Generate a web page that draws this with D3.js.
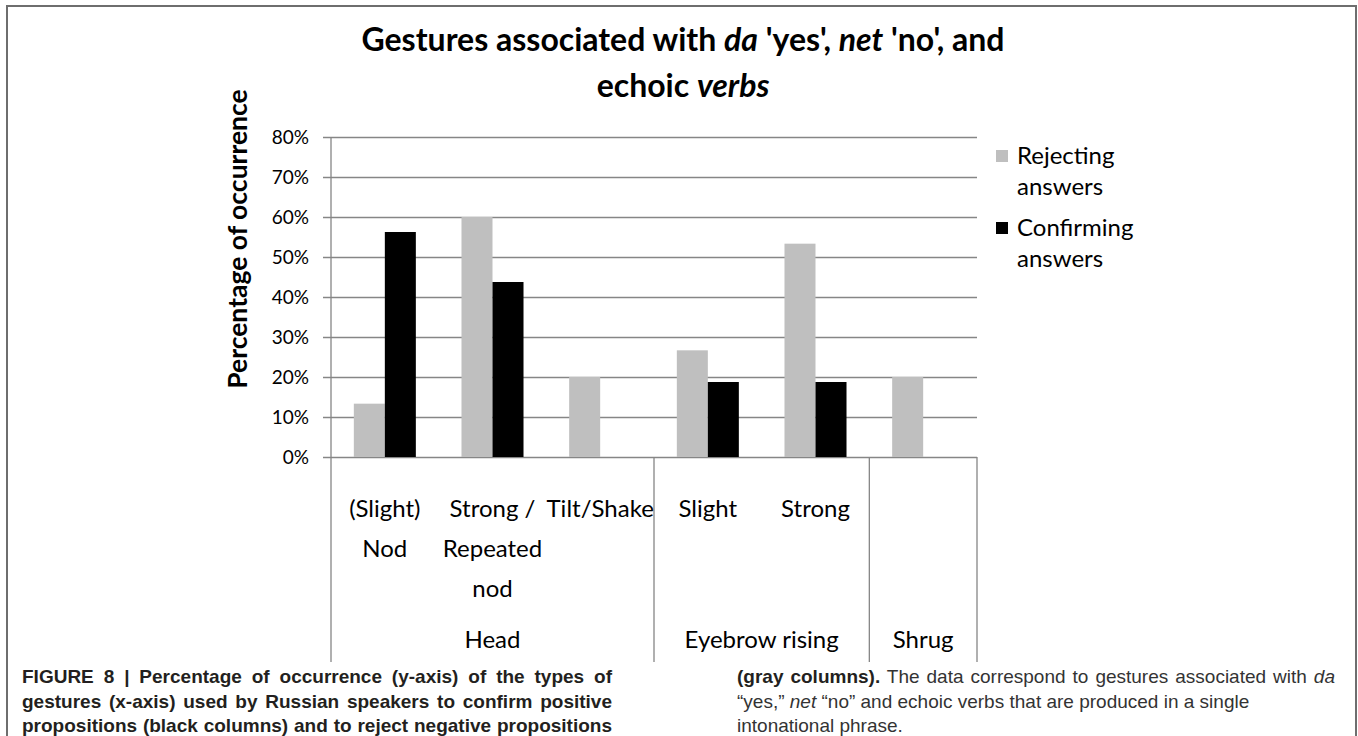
<!DOCTYPE html>
<meta charset="utf-8">
<style>
    body { margin: 0; background: #fff; }
    svg { display: block; background: #fff; }
    .grid line { stroke: #868686; stroke-width: 1.3; }
    .tick text { font: 19px Lato, sans-serif; fill: #000; }
    .lbl { font-family: Lato, sans-serif; fill: #000; }
    .cap { font-family: "Liberation Sans", sans-serif; font-size: 19px; }
</style>
<body>
<script src="https://d3js.org/d3.v7.min.js"></script>
<script>

    // data
    var categoryLines = [["(Slight)", "Nod"], ["Strong /", "Repeated", "nod"], ["Tilt/Shake"], ["Slight"], ["Strong"], [""]];
    var groups = ["Head", "Eyebrow rising", "Shrug"];
    var groupSizes = [3, 2, 1];
    var rejecting = [13.33, 60, 20, 26.67, 53.33, 20];
    var confirming = [56.25, 43.75, 0, 18.75, 18.75, 0];
    var yTicks = [0, 10, 20, 30, 40, 50, 60, 70, 80];
    var seriesNames = ["Rejecting", "Confirming"];
    var seriesColors = ["#bfbfbf", "#000000"];

    var width = 1358,
        height = 736;

    var plotLeft = 331, plotRight = 977, plotTop = 137, plotBottom = 457;
    var axisEnd = 662;

    var svg = d3.select("body").append("svg")
        .attr("width", width)
        .attr("height", height);

    // frame round the figure
    svg.append("path")
        .attr("d", "M7," + height + "V6H1356V" + height)
        .attr("fill", "none")
        .attr("stroke", "#6e6e6e")
        .attr("stroke-width", 2);

    // title
    var title = svg.append("text")
        .attr("class", "lbl")
        .attr("text-anchor", "middle")
        .style("font-weight", "bold")
        .style("font-size", "32px");
    var t1 = title.append("tspan").attr("x", 683).attr("y", 51);
    t1.append("tspan").text("Gestures associated with ");
    t1.append("tspan").style("font-style", "italic").text("da");
    t1.append("tspan").text(" 'yes', ");
    t1.append("tspan").style("font-style", "italic").text("net");
    t1.append("tspan").text(" 'no', and");
    var t2 = title.append("tspan").attr("x", 683).attr("y", 97);
    t2.append("tspan").text("echoic ");
    t2.append("tspan").style("font-style", "italic").text("verbs");

    var idx = d3.range(categoryLines.length);

    var x0 = d3.scaleBand()
        .domain(idx)
        .range([plotLeft, plotRight])
        .paddingInner(0.424)
        .paddingOuter(0.212);

    var x1 = d3.scaleBand()
        .domain([0, 1])
        .range([0, x0.bandwidth()]);

    var y = d3.scaleLinear()
        .domain([0, 80])
        .range([plotBottom, plotTop]);

    // y axis with gridlines
    var yAxis = d3.axisLeft(y)
        .tickValues(yTicks)
        .tickSizeInner(-(plotRight - plotLeft))
        .tickSizeOuter(0)
        .tickPadding(22)
        .tickFormat(function(d){ return d + "%"; });

    var ga = svg.append("g")
        .attr("class", "grid")
        .attr("transform", "translate(" + plotLeft + ",0)")
        .call(yAxis);
    ga.select(".domain").remove();
    ga.selectAll(".tick line").attr("x1", -8);

    // vertical axis line and group separators below the axis
    svg.append("line")
        .attr("x1", plotLeft).attr("x2", plotLeft)
        .attr("y1", plotTop).attr("y2", axisEnd)
        .attr("stroke", "#868686").attr("stroke-width", 1.3);

    var bounds = [0];
    groupSizes.forEach(function(n, i){ bounds.push(bounds[i] + n); });
    var step = x0.step();
    svg.selectAll("line.sep")
        .data(bounds.slice(1))
        .enter()
        .append("line")
        .attr("class", "sep")
        .attr("x1", function(d){ return plotLeft + d * step; })
        .attr("x2", function(d){ return plotLeft + d * step; })
        .attr("y1", plotBottom)
        .attr("y2", axisEnd)
        .attr("stroke", "#868686").attr("stroke-width", 1.3);

    // bars
    var cat = svg.append("g")
        .selectAll("g")
        .data(idx)
        .enter()
        .append("g")
        .attr("transform", function(d){ return "translate(" + x0(d) + ",0)"; });

    cat.selectAll("rect")
        .data(function(d){ return [rejecting[d], confirming[d]]; })
        .enter()
        .append("rect")
        .attr("x", function(d, i){ return x1(i); })
        .attr("y", function(d){ return y(d); })
        .attr("width", x1.bandwidth())
        .attr("height", function(d){ return y(0) - y(d); })
        .attr("fill", function(d, i){ return seriesColors[i]; });

    // category labels
    svg.append("g")
        .selectAll("text")
        .data(idx)
        .enter()
        .append("text")
        .attr("class", "lbl")
        .attr("text-anchor", "middle")
        .style("font-size", "24px")
        .each(function(d){
            var t = d3.select(this);
            var cx = x0(d) + x0.bandwidth() / 2;
            categoryLines[d].forEach(function(s, k){
                t.append("tspan")
                    .attr("x", cx)
                    .attr("y", 517 + k * 40)
                    .text(s);
            });
        });

    // group labels
    svg.append("g")
        .selectAll("text")
        .data(groups)
        .enter()
        .append("text")
        .attr("class", "lbl")
        .attr("text-anchor", "middle")
        .style("font-size", "24px")
        .attr("x", function(d, i){ return plotLeft + (bounds[i] + bounds[i + 1]) / 2 * step; })
        .attr("y", 648)
        .text(function(d){ return d; });

    // y axis title
    svg.append("text")
        .attr("class", "lbl")
        .attr("text-anchor", "middle")
        .attr("transform", "translate(247,239) rotate(-90)")
        .style("font-weight", "bold")
        .style("font-size", "26.5px")
        .text("Percentage of occurrence");

    // legend
    var legend = svg.append("g")
        .selectAll("g")
        .data(seriesNames)
        .enter()
        .append("g")
        .attr("transform", function(d, i){ return "translate(996," + (150 + i * 72) + ")"; });
    legend.append("rect")
        .attr("width", 12).attr("height", 12)
        .attr("fill", function(d, i){ return seriesColors[i]; });
    legend.append("text")
        .attr("class", "lbl")
        .style("font-size", "24px")
        .each(function(d){
            var t = d3.select(this);
            t.append("tspan").attr("x", 21).attr("y", 14).text(d);
            t.append("tspan").attr("x", 21).attr("y", 45).text("answers");
        });

    // caption
    function justify(sel, w) {
        var node = sel.node();
        var len = node.getComputedTextLength();
        var n = (node.textContent.match(/ /g) || []).length;
        sel.attr("word-spacing", (w - len) / n);
    }

    var capLeft = [
        "FIGURE 8 | Percentage of occurrence (y-axis) of the types of",
        "gestures (x-axis) used by Russian speakers to confirm positive",
        "propositions (black columns) and to reject negative propositions"
    ];
    capLeft.forEach(function(s, i){
        var t = svg.append("text")
            .attr("class", "cap")
            .attr("x", 22)
            .attr("y", 683 + i * 24.5)
            .style("font-weight", "bold")
            .attr("fill", "#231f20")
            .text(s);
        justify(t, 590);
    });

    var r1 = svg.append("text").attr("class", "cap").attr("x", 737).attr("y", 683).attr("fill", "#333");
    r1.append("tspan").style("font-weight", "bold").attr("fill", "#231f20").text("(gray columns).");
    r1.append("tspan").text(" The data correspond to gestures associated with ");
    r1.append("tspan").style("font-style", "italic").text("da");
    justify(r1, 598);

    var r2 = svg.append("text").attr("class", "cap").attr("x", 737).attr("y", 707.5).attr("fill", "#333");
    r2.append("tspan").text("\u201cyes,\u201d ");
    r2.append("tspan").style("font-style", "italic").text("net");
    r2.append("tspan").text(" \u201cno\u201d and echoic verbs that are produced in a single");

    svg.append("text").attr("class", "cap").attr("x", 737).attr("y", 732).attr("fill", "#333")
        .text("intonational phrase.");

</script>
